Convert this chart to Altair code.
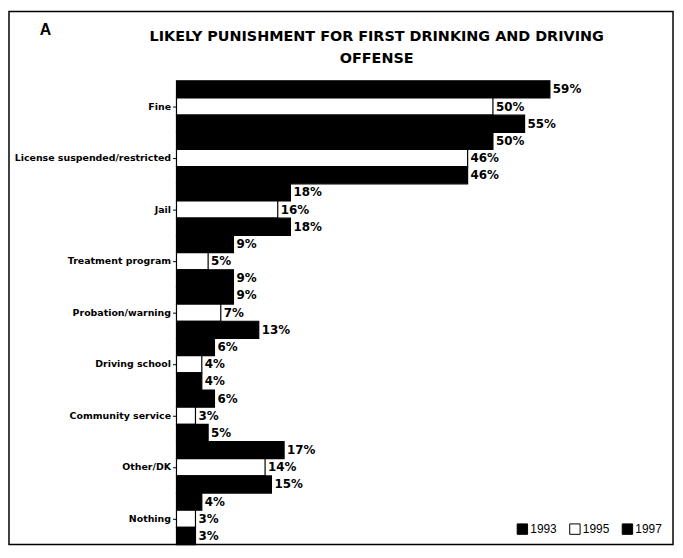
import altair as alt
import pandas as pd

categories = ["Fine", "License suspended/restricted", "Jail", "Treatment program",
              "Probation/warning", "Driving school", "Community service", "Other/DK", "Nothing"]
years = ["1993", "1995", "1997"]
v1993 = [59, 50, 18, 9, 9, 6, 6, 17, 4]
v1995 = [50, 46, 16, 5, 7, 4, 3, 14, 3]
v1997 = [55, 46, 18, 9, 13, 4, 5, 15, 3]
title_lines = ["LIKELY PUNISHMENT FOR FIRST DRINKING AND DRIVING", "OFFENSE"]
panel_letter = "A"

rows = []
for yr, vals in zip(years, [v1993, v1995, v1997]):
    for c, v in zip(categories, vals):
        rows.append({"cat": c, "year": yr, "value": v})
df = pd.DataFrame(rows)

FONT = "Liberation Sans"
WFONT = "DejaVu Sans"

y_enc = alt.Y("cat:N", sort=categories, title=None,
              scale=alt.Scale(paddingInner=0, paddingOuter=0),
              axis=alt.Axis(labelFont=WFONT, labelFontSize=9.5, labelFontWeight="bold",
                            labelColor="black", domainColor="black", domainWidth=1.5,
                            tickColor="black", tickSize=4, labelPadding=2, labelLimit=200))
yoff = alt.YOffset("year:N", sort=years, scale=alt.Scale(paddingInner=0, paddingOuter=0))
x_enc = alt.X("value:Q", scale=alt.Scale(domain=[0, 70]), axis=None)

base = alt.Chart(df)

bars = base.mark_bar(stroke="black", strokeWidth=1.2).encode(
    y=y_enc, yOffset=yoff, x=x_enc,
    fill=alt.Fill("year:N", sort=years,
                  scale=alt.Scale(domain=years, range=["black", "white", "black"]),
                  legend=alt.Legend(orient="none", legendX=343, legendY=446,
                                    direction="horizontal", title=None,
                                    symbolType="square", symbolSize=110,
                                    symbolStrokeColor="black", symbolStrokeWidth=1,
                                    labelFont=FONT, labelFontSize=12, labelColor="black",
                                    columnPadding=10, labelOffset=2)),
)

labels = base.transform_calculate(label="datum.value + '%'").mark_text(
    align="left", baseline="middle", dx=3, font=WFONT, fontSize=12,
    fontWeight="bold", color="black"
).encode(y=y_enc, yOffset=yoff, x=x_enc, text="label:N")

tdf = pd.DataFrame({"t": title_lines, "line": [0, 1]})
title1 = alt.Chart(tdf).transform_filter("datum.line == 0").mark_text(
    align="center", baseline="middle", font=WFONT, fontSize=14.5, fontWeight="bold",
    color="black"
).encode(x=alt.value(202), y=alt.value(-44), text="t:N")
title2 = alt.Chart(tdf).transform_filter("datum.line == 1").mark_text(
    align="center", baseline="middle", font=WFONT, fontSize=14.5, fontWeight="bold",
    color="black"
).encode(x=alt.value(202), y=alt.value(-22), text="t:N")

letter = alt.Chart(pd.DataFrame({"t": [panel_letter]})).mark_text(
    align="left", baseline="middle", font=FONT, fontSize=16, fontWeight="bold", color="black"
).encode(x=alt.value(-138), y=alt.value(-51), text="t:N")

frame = alt.Chart(pd.DataFrame({"a": [0]})).mark_rect(
    fill="transparent", stroke="black", strokeWidth=1.5
).encode(x=alt.value(-169), x2=alt.value(501), y=alt.value(-70), y2=alt.value(468))

chart = alt.layer(frame, bars, labels, title1, title2, letter).properties(
    width=447, height=468,
    background="white",
    autosize=alt.AutoSizeParams(type="none"),
    padding={"left": 170, "top": 71, "right": 56, "bottom": 1},
).configure_view(stroke=None)

chart.save("out.html", embed_options={"renderer": "svg", "actions": False})
